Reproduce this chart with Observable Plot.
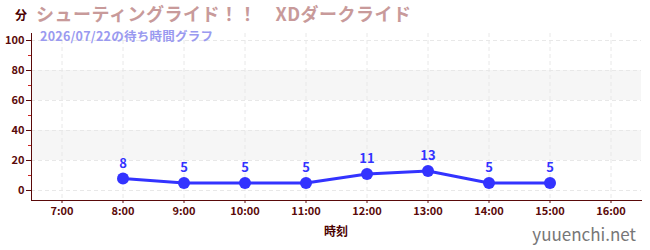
<!DOCTYPE html>
<html><head><meta charset="utf-8">
<script src="https://cdn.jsdelivr.net/npm/d3@7"></script>
<script src="https://cdn.jsdelivr.net/npm/@observablehq/plot@0.6"></script>
<style>body{margin:0;background:#fff;}#chart{position:relative;width:650px;height:250px;}</style>
</head><body><div id="chart"></div>
<script>
const hours = [8, 9, 10, 11, 12, 13, 14, 15];
const waits = [8, 5, 5, 5, 11, 13, 5, 5];
const xTicks = [7, 8, 9, 10, 11, 12, 13, 14, 15, 16];
const yTicks = [0, 20, 40, 60, 80, 100];
const yMinorTicks = [10, 30, 50, 70, 90];
const bandLow = [20, 60];
const bandHigh = [40, 80];
const title = "シューティングライド！！　XDダークライド";
const subtitle = "2026/07/22の待ち時間グラフ";
const yLabel = "分";
const xLabel = "時刻";
const site = "yuuenchi.net";

const data = hours.map((h, i) => ({h, v: waits[i]}));
const bands = bandLow.map((a, i) => ({a, b: bandHigh[i]}));
const font = "'Noto Sans CJK JP', 'Noto Sans', sans-serif";
const axisColor = "#5a0a0a";

const plot = Plot.plot({
  width: 650, height: 250,
  marginLeft: 31, marginRight: 9, marginTop: 33, marginBottom: 50,
  style: {fontFamily: font, fontSize: "11px", fontWeight: "bold", color: axisColor, background: "#fff"},
  x: {domain: [6.5, 16.5]},
  y: {domain: [-6.67, 104.67]},
  marks: [
    Plot.rect(bands, {y1: "a", y2: "b", fill: "#f6f6f6"}),
    Plot.gridY(yTicks, {stroke: "#e8e8e8", strokeOpacity: 1, strokeDasharray: "4,3"}),
    Plot.gridX(xTicks, {stroke: "#e8e8e8", strokeOpacity: 1, strokeDasharray: "4,3"}),
    Plot.axisY(yMinorTicks, {tickSize: 3, text: null, stroke: "#cc2222", label: null}),
    Plot.axisY(yTicks, {tickSize: 5, tickPadding: 2, stroke: axisColor, fill: axisColor, label: null, fontSize: 11}),
    Plot.axisX(xTicks, {tickSize: 3, tickPadding: 4, tickFormat: d => d + ":00", stroke: axisColor, fill: axisColor, label: null, fontSize: 11}),
    Plot.frame({anchor: "left", stroke: axisColor}),
    Plot.frame({anchor: "bottom", stroke: axisColor}),
    Plot.line(data, {x: "h", y: "v", stroke: "#3333ff", strokeWidth: 3}),
    Plot.dot(data, {x: "h", y: "v", fill: "#3333ff", r: 6}),
    Plot.text(data, {x: "h", y: "v", text: "v", dy: -15, fill: "#3333ff", fontSize: 13, fontWeight: "bold"})
  ]
});
document.getElementById("chart").appendChild(plot);
const svg = d3.select(plot);
function addText(x, y, s, color, size, anchor, weight, spacing) {
  svg.append("text").attr("x", x).attr("y", y).attr("text-anchor", anchor)
    .attr("fill", color).attr("font-size", size).attr("font-weight", weight)
    .attr("letter-spacing", spacing || 0)
    .attr("font-family", font).text(s);
}
addText(36, 21, title, "#c89a9a", 18, "start", "bold", 0.5);
addText(40, 41, subtitle, "#9a9af0", 12.5, "start", "bold", 0.25);
addText(15, 20, yLabel, "#4a0000", 12, "start", "bold");
addText(336, 236, xLabel, "#4a0000", 12, "middle", "bold");
addText(636, 241, site, "#777", 17, "end", "normal");
</script></body></html>
